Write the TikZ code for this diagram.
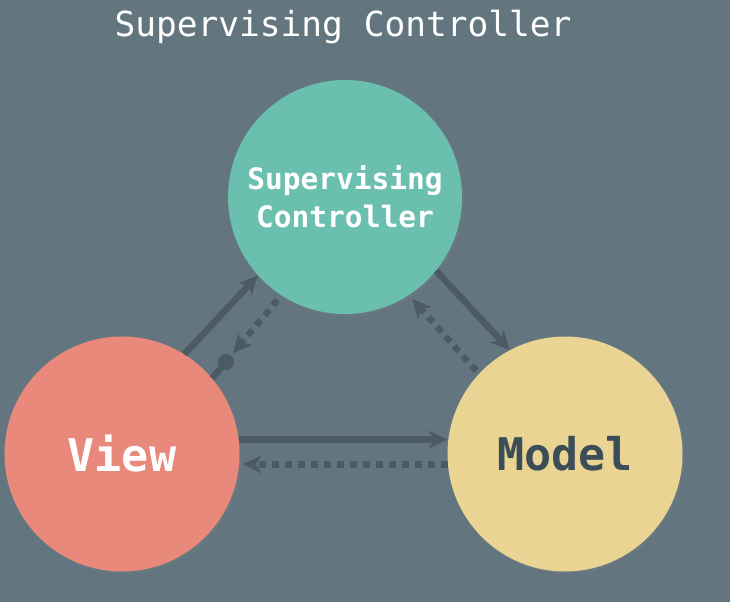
\documentclass[tikz,border=0pt]{standalone}
\usepackage{fontspec}
\setmonofont{DejaVu Sans Mono}
\usetikzlibrary{arrows.meta,shadows}
\definecolor{bg}{HTML}{637680}
\definecolor{ctrlc}{HTML}{6BBFAF}
\definecolor{viewc}{HTML}{E8897B}
\definecolor{modelc}{HTML}{EAD494}
\definecolor{arrc}{HTML}{4C5A64}
\definecolor{mtext}{HTML}{3D4D57}
\begin{document}
\begin{tikzpicture}[x=1pt,y=-1pt,
  ball/.style={circle,minimum size=#1,inner sep=0pt,
    drop shadow={opacity=0.25,shadow xshift=2pt,shadow yshift=-2pt}},
  tipstyle/.style={-{Stealth[length=19pt,width=18pt,inset=6pt]}},
  solidarrow/.style={draw=arrc,line width=6.5pt,tipstyle},
  dotarrow/.style={draw=arrc,line width=6.5pt,dash pattern=on 7pt off 6pt,tipstyle},
  plainline/.style={draw=arrc,line width=6.5pt}]
\fill[bg] (0,0) rectangle (730,602);
\node[text=white,font=\ttfamily\fontsize{34.5}{38}\selectfont] (title) at (343,27) {Supervising Controller};
\node[ball=234pt,fill=ctrlc,align=center,text=white,font=\ttfamily\bfseries\fontsize{29.5}{38}\selectfont] (ctrl) at (345,197) {Supervising\\Controller};
\node[ball=235pt,fill=viewc,text=white,font=\ttfamily\bfseries\fontsize{45}{48}\selectfont] (view) at (122,454) {View};
\node[ball=235pt,fill=modelc,text=mtext,font=\ttfamily\bfseries\fontsize{45}{48}\selectfont] (model) at (565,454) {Model};
\coordinate (dotc) at (226,362);
\fill[arrc] (dotc) circle (8pt);
\draw[solidarrow] (view.58) -- (ctrl.222);
\draw[dotarrow,shorten <=6pt,shorten >=11pt] (ctrl.237) -- (dotc);
\draw[plainline] (view.40) -- (dotc);
\draw[solidarrow] (ctrl.321.6) -- (model.118.7);
\draw[dotarrow,shorten <=4pt,shorten >=5pt] (model.137.7) -- (ctrl.303.4);
\draw[solidarrow] (view.7.7) -- (view.7.7 -| model.west);
\draw[dotarrow,shorten >=3pt] (model.185.9) -- (model.185.9 -| view.east);
\end{tikzpicture}
\end{document}
